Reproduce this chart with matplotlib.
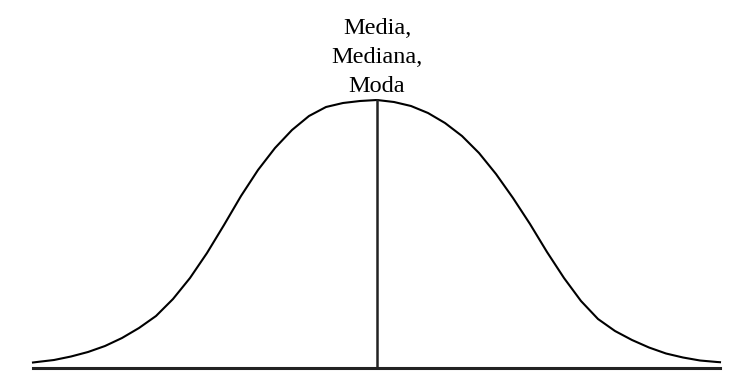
import matplotlib
matplotlib.use('Agg')
from matplotlib import pyplot as plt
import numpy as np

# Puntos de la curva (x respecto al centro, altura sobre la base)
curva_x = [-344, -340, -323, -306, -289, -272, -255, -238, -221, -204, -187, -170,
           -153, -136, -119, -102, -85, -68, -51, -34, -17, 0,
           17, 34, 51, 68, 85, 102, 119, 136, 153, 170, 187, 204, 221, 238,
           255, 272, 289, 306, 323, 340, 343]
curva_y = [5.5, 6, 8, 11.5, 16, 22, 30, 40, 52, 69, 90, 115,
           143, 172, 198, 220, 238, 252, 261, 265, 267, 268,
           266, 262, 255, 245, 232, 215, 194, 170, 144, 116, 90, 67, 49, 37,
           28, 20.5, 14.5, 10.5, 7.5, 6, 5.8]

media = 0
pico = 268
base_x = [-344, 343]
etiqueta = "Media,\nMediana,\nModa"

fig = plt.figure(figsize=(7.52, 3.76), dpi=100)
ax = fig.add_axes([0, 0, 1, 1])

# Curva normal
ax.plot(curva_x, curva_y, color='black', lw=1.5, solid_joinstyle='round')

# Línea base
ax.plot(base_x, [0, 0], color='#222222', lw=2.2)

# Línea central
ax.plot([media, media], [0, pico], color='#222222', lw=1.8)

# Texto sobre el pico (la línea base de "Moda" queda justo encima de la curva)
ax.text(media, 276, etiqueta, ha='center', va='baseline', fontsize=17.5,
        family='Liberation Serif', linespacing=1.49, color='black')

ax.set_xlim(-377, 752 - 377)
ax.set_ylim(-8, 368)
ax.axis('off')

fig.savefig('out.png', dpi=100, facecolor='white')
